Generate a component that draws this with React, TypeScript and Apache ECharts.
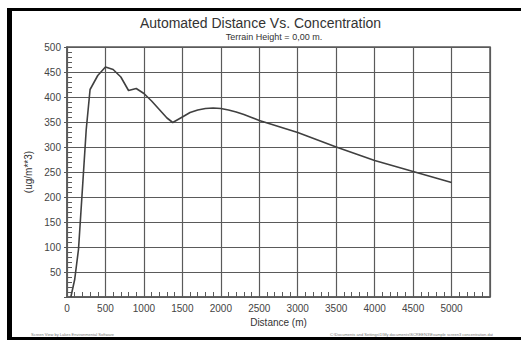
import React, { useEffect, useRef } from "react";
import * as echarts from "echarts";

const distances = [50, 100, 150, 200, 250, 300, 400, 500, 600, 700, 800, 900, 1000, 1100, 1200, 1300, 1375, 1500, 1600, 1700, 1800, 1900, 2000, 2100, 2200, 2300, 2400, 2500, 3000, 3500, 4000, 4500, 5000];
const concentrations = [0, 35, 96, 215, 335, 415, 443, 460, 455, 440, 413, 417, 407, 392, 375, 358, 349, 360, 369, 374, 377, 378, 377, 374, 370, 365, 359, 353, 329, 300, 273, 251, 229];
const xTicks = [0, 500, 1000, 1500, 2000, 2500, 3000, 3500, 4000, 4500, 5000];
const yTicks = [50, 100, 150, 200, 250, 300, 350, 400, 450, 500];

const titleText = "Automated Distance Vs. Concentration";
const subtitleText = "Terrain Height = 0,00 m.";
const xName = "Distance (m)";
const yName = "(ug/m**3)";
const footLeft = "Screen View by Lakes Environmental Software";
const footRight = "C:\\Documents and Settings\\1\\My documents\\SCREEN3\\Example screen3 concentration.dat";

export default function App() {
  const ref = useRef<HTMLDivElement>(null);
  useEffect(() => {
    if (!ref.current) return;
    const chart = echarts.init(ref.current, null, { renderer: "svg" });
    const font = "Liberation Sans, Arial, sans-serif";
    const gridCol = "#5a5a5a";
    chart.setOption({
      animation: false,
      backgroundColor: "#ffffff",
      title: [
        {
          text: titleText,
          left: "center",
          top: 11,
          textStyle: { fontFamily: font, fontSize: 14, fontWeight: "normal", color: "#333" },
        },
        {
          text: subtitleText,
          left: 269,
          top: 27,
          textAlign: "center",
          textStyle: { fontFamily: font, fontSize: 9, fontWeight: "normal", color: "#333" },
        },
      ],
      grid: {
        left: 67,
        right: 31,
        top: 47,
        bottom: 44,
        show: true,
        borderColor: gridCol,
        borderWidth: 1.5,
      },
      xAxis: [
        {
          type: "value",
          min: 0,
          max: 5500,
          interval: 500,
          name: xName,
          nameLocation: "middle",
          nameGap: 20,
          nameTextStyle: { fontFamily: font, fontSize: 10, color: "#333" },
          axisLine: { show: true, onZero: false, lineStyle: { color: gridCol, width: 1.5 } },
          axisTick: { show: true, inside: true, length: 5, lineStyle: { color: gridCol, width: 1 } },
          minorTick: { show: true, splitNumber: 5, length: 5, lineStyle: { color: gridCol, width: 1 } },
          axisLabel: {
            fontFamily: font,
            fontSize: 10,
            color: "#444",
            margin: 6,
            formatter: (v: number) => (xTicks.includes(v) ? String(v) : ""),
          },
          splitLine: { show: true, lineStyle: { color: gridCol, width: 1.2 } },
        },
      ],
      yAxis: [
        {
          type: "value",
          min: 0,
          max: 500,
          interval: 50,
          name: yName,
          nameLocation: "middle",
          nameGap: 30,
          nameTextStyle: { fontFamily: font, fontSize: 10, color: "#333" },
          axisLine: { show: true, lineStyle: { color: gridCol, width: 1.5 } },
          axisTick: { show: true, inside: true, length: 5, lineStyle: { color: gridCol, width: 1 } },
          minorTick: { show: true, splitNumber: 5, length: 5, lineStyle: { color: gridCol, width: 1 } },
          axisLabel: {
            fontFamily: font,
            fontSize: 10,
            color: "#444",
            margin: 6,
            formatter: (v: number) => (yTicks.includes(v) ? String(v) : ""),
          },
          splitLine: { show: true, lineStyle: { color: gridCol, width: 1.2 } },
        },
        {
          type: "value",
          min: 0,
          max: 500,
          interval: 50,
          position: "left",
          axisLine: { show: false },
          axisTick: { show: true, inside: false, length: 3, lineStyle: { color: gridCol, width: 1 } },
          axisLabel: { show: false },
          splitLine: { show: false },
        },
      ],
      series: [
        {
          type: "line",
          data: distances.map((d, i) => [d, concentrations[i]]),
          showSymbol: false,
          smooth: false,
          lineStyle: { color: "#404040", width: 1.6, join: "round" },
        },
      ],
      graphic: [
        { type: "rect", shape: { x: 7, y: 8, width: 514, height: 3 }, style: { fill: "#000" } },
        { type: "rect", shape: { x: 7, y: 8, width: 5, height: 332 }, style: { fill: "#000" } },
        { type: "rect", shape: { x: 7, y: 337, width: 514, height: 3 }, style: { fill: "#000" } },
        {
          type: "text",
          x: 31,
          y: 332,
          style: { text: footLeft, fontFamily: font, fontSize: 4, fill: "#777" },
        },
        {
          type: "text",
          x: 330,
          y: 332,
          style: { text: footRight, fontFamily: font, fontSize: 4, fill: "#777" },
        },
      ],
    });
    return () => chart.dispose();
  }, []);
  return (
    <div
      ref={ref}
      style={{ position: "fixed", left: 0, top: 0, width: 521, height: 341, background: "#fff" }}
    />
  );
}
